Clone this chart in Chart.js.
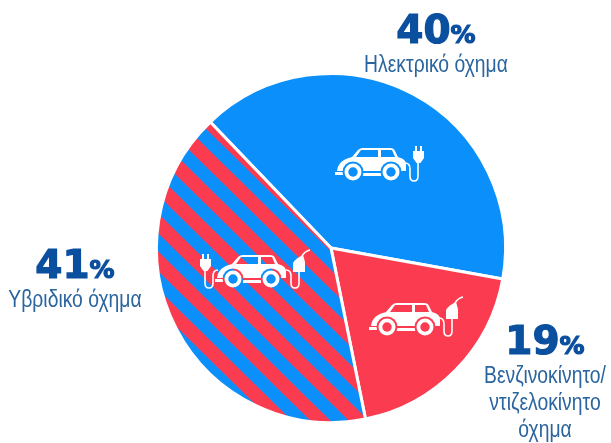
<!DOCTYPE html>
<html>
<head>
<meta charset="utf-8">
<script src="https://cdn.jsdelivr.net/npm/chart.js@4"></script>
<style>
html, body { margin: 0; padding: 0; background: #fff; }
#wrap { position: relative; width: 611px; height: 443px; overflow: hidden; }
canvas { position: absolute; left: 0; top: 0; }
.lab { position: absolute; text-align: center; transform: translateX(-50%); color: #2b659f; font-family: "Liberation Sans", sans-serif; font-size: 23px; line-height: 27px; }
.lab b { display: block; color: #0b4f9f; font-family: "DejaVu Sans", sans-serif; font-weight: 700; font-size: 39px; line-height: 33px; -webkit-text-stroke: 1.2px #0b4f9f; white-space: nowrap; }
.lab b span { font-size: 25px; }
.lab i { display: block; font-style: normal; white-space: pre; transform: scaleX(0.84); }
</style>
</head>
<body>
<div id="wrap">
	<canvas id="pie" width="611" height="443"></canvas>
</div>
<script>
const categories = ['Ηλεκτρικό όχημα', 'Βενζινοκίνητο/\nντιζελοκίνητο\nόχημα', 'Υβριδικό όχημα'];
const values = [40, 19, 41];
const BLUE = '#0b8ffb';
const RED = '#fb3c50';

// where each label sits (centre x, top y), same order as categories
const labelSpots = [[436, 13], [545, 324], [75, 248]];

// diagonal stripes for the hybrid slice
function stripes() {
	const tile = document.createElement('canvas');
	tile.width = 4;
	tile.height = 27;
	const t = tile.getContext('2d');
	t.fillStyle = BLUE;
	t.fillRect(0, 0, 4, 27);
	t.fillStyle = RED;
	t.fillRect(0, 0, 4, 14);
	const p = document.getElementById('pie').getContext('2d').createPattern(tile, 'repeat');
	p.setTransform(new DOMMatrix().translate(195, 146).rotate(44.5).translate(0, -7));
	return p;
}
const hatch = stripes();

function plug(ctx, x, y) {
	ctx.fillStyle = '#fff';
	ctx.fillRect(x - 3, y - 9, 2, 5);
	ctx.fillRect(x + 2, y - 9, 2, 5);
	ctx.beginPath();
	ctx.moveTo(x - 5, y - 4);
	ctx.lineTo(x + 6, y - 4);
	ctx.lineTo(x + 6, y + 3);
	ctx.lineTo(x + 2.5, y + 8);
	ctx.lineTo(x - 1.5, y + 8);
	ctx.lineTo(x - 5, y + 3);
	ctx.closePath();
	ctx.fill();
}

function pump(ctx, x, y) {
	ctx.fillStyle = '#fff';
	ctx.beginPath();
	ctx.moveTo(x - 6, y + 8);
	ctx.lineTo(x - 6, y - 1);
	ctx.quadraticCurveTo(x - 3, y - 6, x + 4, y - 9);
	ctx.lineTo(x + 6, y - 2);
	ctx.lineTo(x + 6, y + 8);
	ctx.closePath();
	ctx.fill();
	ctx.strokeStyle = '#fff';
	ctx.lineWidth = 1.6;
	ctx.beginPath();
	ctx.moveTo(x + 3, y - 8);
	ctx.quadraticCurveTo(x + 6, y - 13, x + 11, y - 14);
	ctx.stroke();
}

// car centred on x,y; gap is the paint showing through windows and wheel arches
function car(ctx, x, y, gap) {
	ctx.fillStyle = '#fff';
	ctx.beginPath();
	ctx.moveTo(x - 36, y + 6);
	ctx.quadraticCurveTo(x - 35, y - 5, x - 21, y - 8);
	ctx.lineTo(x - 15, y - 15);
	ctx.quadraticCurveTo(x - 13, y - 17, x - 10, y - 17);
	ctx.lineTo(x + 17, y - 17);
	ctx.quadraticCurveTo(x + 21, y - 17, x + 22, y - 14);
	ctx.lineTo(x + 25, y - 8);
	ctx.quadraticCurveTo(x + 33, y - 6, x + 33, y - 1);
	ctx.lineTo(x + 33, y + 6);
	ctx.closePath();
	ctx.fill();
	ctx.fillRect(x - 38, y + 7, 9, 3);
	ctx.fillRect(x - 12, y + 8, 22, 3);

	ctx.fillStyle = gap;
	ctx.beginPath();
	ctx.moveTo(x - 17, y - 8);
	ctx.lineTo(x - 12, y - 15);
	ctx.lineTo(x + 5, y - 15);
	ctx.lineTo(x + 5, y - 8);
	ctx.closePath();
	ctx.moveTo(x + 8, y - 15);
	ctx.lineTo(x + 19, y - 15);
	ctx.lineTo(x + 22, y - 8);
	ctx.lineTo(x + 8, y - 8);
	ctx.closePath();
	ctx.fill();

	[-20, 18].forEach(function(dx) {
		ctx.fillStyle = gap;
		ctx.beginPath();
		ctx.arc(x + dx, y + 7, 10.5, 0, Math.PI * 2);
		ctx.fill();
		ctx.fillStyle = '#fff';
		ctx.beginPath();
		ctx.arc(x + dx, y + 7, 8.5, 0, Math.PI * 2);
		ctx.fill();
		ctx.fillStyle = gap;
		ctx.beginPath();
		ctx.arc(x + dx, y + 7, 4.7, 0, Math.PI * 2);
		ctx.fill();
	});
}

// cord from the car's rear down and up into plug or pump
function cord(ctx, x, y, dir) {
	ctx.strokeStyle = '#fff';
	ctx.lineWidth = 1.6;
	ctx.beginPath();
	ctx.moveTo(x, y - 2);
	ctx.quadraticCurveTo(x + dir * 5, y - 2, x + dir * 5, y + 4);
	ctx.lineTo(x + dir * 5, y + 11);
	ctx.quadraticCurveTo(x + dir * 5, y + 16, x + dir * 9, y + 16);
	ctx.quadraticCurveTo(x + dir * 13, y + 16, x + dir * 13, y + 11);
	ctx.lineTo(x + dir * 13, y - 4);
	ctx.stroke();
}

const vehicleIcons = {
	id: 'vehicleIcons',
	afterDatasetsDraw(chart) {
		const ctx = chart.ctx;
		ctx.save();
		// electric
		car(ctx, 373, 165, BLUE);
		cord(ctx, 405, 165, 1);
		plug(ctx, 418, 155);
		// petrol
		car(ctx, 407, 320, RED);
		cord(ctx, 439, 320, 1);
		pump(ctx, 452, 311);
		// hybrid
		car(ctx, 253, 272, hatch);
		cord(ctx, 218, 272, -1);
		plug(ctx, 205, 263);
		cord(ctx, 286, 272, 1);
		pump(ctx, 299, 264);
		ctx.restore();
	}
};

new Chart(document.getElementById('pie').getContext('2d'), {
	type: 'pie',
	data: {
		labels: categories,
		datasets: [{
			data: values,
			backgroundColor: [BLUE, RED, hatch],
			borderColor: '#fff',
			borderWidth: 3
		}]
	},
	options: {
		responsive: false,
		animation: false,
		rotation: -43.8,
		layout: { padding: { left: 155, right: 104, top: 72, bottom: 19 } },
		plugins: {
			legend: { display: false },
			tooltip: { enabled: false }
		}
	},
	plugins: [vehicleIcons]
});

categories.forEach(function(name, i) {
	const el = document.createElement('div');
	el.className = 'lab';
	el.style.left = labelSpots[i][0] + 'px';
	el.style.top = labelSpots[i][1] + 'px';
	const pct = document.createElement('b');
	pct.innerHTML = values[i] + '<span>%</span>';
	el.appendChild(pct);
	const txt = document.createElement('i');
	txt.textContent = name;
	el.appendChild(txt);
	document.getElementById('wrap').appendChild(el);
});
</script>
</body>
</html>
